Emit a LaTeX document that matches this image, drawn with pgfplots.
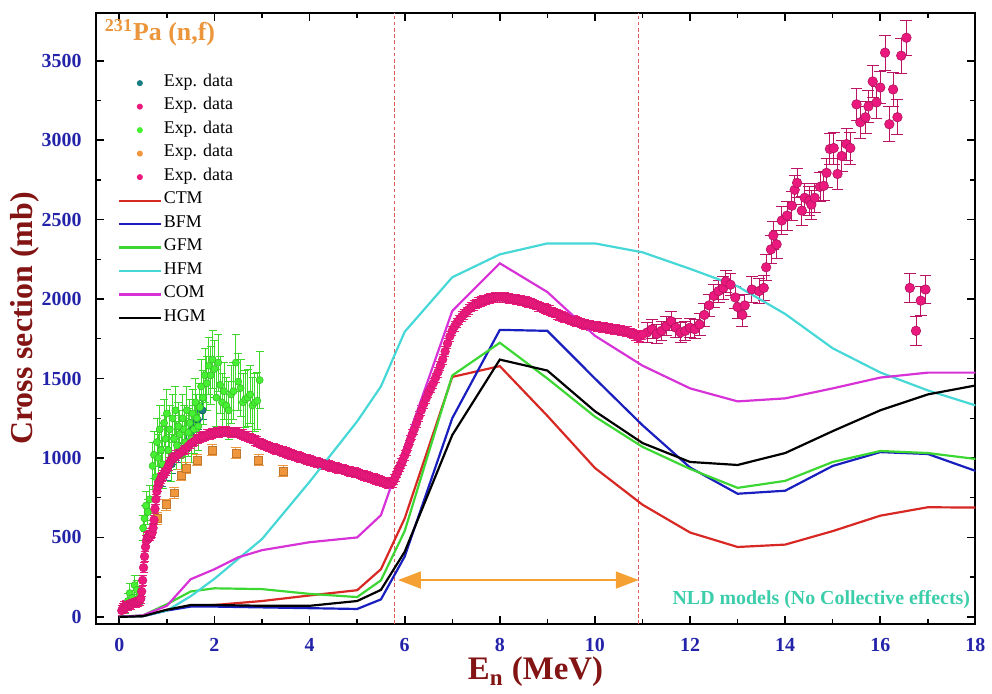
\documentclass[border=0pt]{standalone}
\usepackage{pgfplots}
\pgfplotsset{compat=1.18}
\usepackage{fontspec}
\setmainfont{Liberation Serif}
\usetikzlibrary{arrows.meta}
\definecolor{ctm}{RGB}{215,40,35}
\definecolor{bfm}{RGB}{25,30,190}
\definecolor{gfm}{RGB}{60,215,50}
\definecolor{hfm}{RGB}{70,215,215}
\definecolor{com}{RGB}{215,50,215}
\definecolor{expteal}{RGB}{25,125,130}
\definecolor{expmag}{RGB}{235,25,125}
\definecolor{expgreen}{RGB}{70,240,50}
\definecolor{exporange}{RGB}{240,150,60}
\definecolor{tickblue}{RGB}{35,35,170}
\definecolor{labred}{RGB}{130,20,20}
\definecolor{titleor}{RGB}{235,150,60}
\definecolor{nldteal}{RGB}{60,205,170}
\definecolor{vline}{RGB}{220,90,90}
\definecolor{arrowor}{RGB}{245,160,50}

\pgfplotstableread{
x y
0 0
0.5 5
1 45
1.5 70
2 75
3 100
4 135
5 168
5.5 300
6 620
7 1510
8 1578
9 1265
10 937
11 706
12 531
13 440
14 455
15 540
16 637
17 690
18 688
}\ctm
\pgfplotstableread{
x y
0 0
0.5 5
1 40
1.5 65
2 65
3 60
4 55
5 50
5.5 110
6 380
7 1250
8 1806
9 1800
10 1500
11 1206
12 940
13 775
14 794
15 950
16 1037
17 1025
18 919
}\bfm
\pgfplotstableread{
x y
0 0
0.5 10
1 80
1.5 160
2 180
3 175
4 145
5 125
5.5 230
6 540
7 1519
8 1725
9 1500
10 1260
11 1070
12 931
13 812
14 856
15 975
16 1044
17 1031
18 994
}\gfm
\pgfplotstableread{
x y
0 0
0.5 5
1 40
1.5 130
2 240
3 490
4 850
5 1230
5.5 1450
6 1794
7 2137
8 2281
9 2350
10 2350
11 2294
12 2190
13 2080
14 1906
15 1690
16 1538
17 1425
18 1331
}\hfm
\pgfplotstableread{
x y
0 0
0.5 10
1 70
1.5 237
2 300
2.5 375
3 420
4 470
5 500
5.5 640
7 1925
8 2225
9 2044
10 1769
11 1581
12 1438
13 1356
14 1375
15 1438
16 1506
17 1537
18 1537
}\com
\pgfplotstableread{
x y
0 0
0.5 5
1 45
1.5 75
2 75
3 70
4 70
5 100
5.5 170
6 410
7 1144
8 1619
9 1550
10 1294
11 1094
12 975
13 956
14 1031
15 1169
16 1300
17 1400
18 1456
}\hgm
\pgfplotstableread{
x y e
0.90 880 60
1.00 920 60
1.10 960 60
1.25 1030 60
1.40 1100 60
1.55 1180 60
1.65 1240 60
1.75 1300 60
}\expA
\pgfplotstableread{
x y e
11.10 1790 60
11.20 1810 60
11.30 1780 60
11.40 1800 60
11.50 1830 60
11.60 1860 60
11.70 1820 60
11.80 1790 60
11.90 1800 60
12.00 1820 60
12.10 1810 60
12.20 1840 70
12.30 1900 70
12.40 1960 70
12.50 2020 70
12.60 2050 70
12.70 2070 70
12.75 2110 70
12.85 2090 70
12.95 2010 70
13.00 1950 70
13.10 1900 70
13.15 1960 70
13.30 2060 80
13.45 2050 80
13.55 2070 80
13.60 2200 80
13.70 2312 90
13.75 2400 90
13.82 2344 90
13.93 2494 90
14.04 2525 90
14.14 2587 90
14.20 2687 90
14.25 2731 90
14.35 2556 90
14.41 2637 90
14.51 2619 90
14.55 2594 90
14.62 2637 90
14.73 2706 90
14.81 2712 90
14.87 2794 90
14.94 2944 100
15.02 2950 100
15.10 2787 100
15.19 2900 100
15.29 2975 100
15.37 2950 100
15.50 3225 100
15.58 3112 100
15.69 3144 100
15.75 3212 100
15.84 3369 100
15.92 3237 100
16.00 3331 100
16.10 3550 110
16.19 3100 110
16.27 3319 110
16.36 3144 110
16.44 3531 110
16.55 3644 110
16.62 2070 90
16.75 1800 90
16.85 1990 90
16.95 2060 90
}\expB
\pgfplotstableread{
x y e
0.12 60 40
0.18 100 50
0.22 150 60
0.27 120 50
0.32 200 60
0.37 170 60
0.42 130 50
0.50 560 80
0.53 620 80
0.56 700 90
0.60 660 80
0.64 740 90
0.70 950 150
0.73 1020 150
0.76 880 150
0.79 1100 150
0.82 1000 150
0.85 1180 150
0.88 1050 150
0.91 960 150
0.94 1220 150
0.97 1120 150
1.00 1280 150
1.03 1050 150
1.06 1180 150
1.09 1000 150
1.12 1250 150
1.15 1120 150
1.18 1300 150
1.21 1080 150
1.24 1200 150
1.27 1150 150
1.30 1020 150
1.33 1250 150
1.36 1180 150
1.39 1100 150
1.42 1300 150
1.45 1160 150
1.48 1220 150
1.51 1120 150
1.54 1280 150
1.57 1180 150
1.60 1350 150
1.63 1250 150
1.66 1200 150
1.69 1320 150
1.72 1450 170
1.76 1380 170
1.80 1520 170
1.84 1470 170
1.88 1580 180
1.92 1520 180
1.96 1620 180
2.00 1560 180
2.04 1380 180
2.08 1600 180
2.12 1460 180
2.16 1350 180
2.20 1420 180
2.25 1330 180
2.30 1300 180
2.35 1400 180
2.40 1420 180
2.45 1600 180
2.50 1480 180
2.55 1440 180
2.60 1350 180
2.65 1370 180
2.70 1380 180
2.75 1400 180
2.80 1330 180
2.85 1350 180
2.90 1360 180
2.95 1490 180
}\expC
\pgfplotstableread{
x y e
0.80 620 35
0.98 706 35
1.15 781 35
1.30 894 35
1.40 937 35
1.63 987 35
1.95 1050 35
2.45 1031 35
2.93 987 35
3.45 919 35
}\expD
\pgfplotstableread{
x y
0.05 40
0.08 55
0.10 65
0.13 60
0.15 75
0.18 70
0.20 80
0.23 85
0.25 78
0.28 90
0.30 88
0.33 95
0.35 92
0.38 100
0.40 98
0.43 105
0.45 115
0.47 160
0.49 230
0.51 310
0.53 380
0.55 440
0.57 480
0.59 500
0.61 505
0.63 515
0.65 510
0.67 525
0.69 530
0.71 560
0.73 610
0.75 680
0.77 740
0.79 790
0.81 820
0.83 845
0.85 855
0.87 870
0.89 880
0.92 890
0.95 905
0.98 920
1.01 935
1.04 955
1.07 975
1.10 990
1.13 1000
1.16 1005
1.20 1015
1.25 1025
1.30 1035
1.35 1050
1.40 1060
1.45 1075
1.50 1090
1.55 1100
1.60 1110
1.65 1120
1.70 1130
1.75 1135
1.80 1140
1.85 1148
1.90 1150
1.95 1155
2.00 1158
2.05 1162
2.10 1160
2.15 1166
2.20 1164
2.25 1168
2.30 1165
2.35 1162
2.40 1164
2.45 1158
2.50 1160
2.55 1152
2.60 1148
2.65 1140
2.70 1135
2.75 1126
2.80 1120
2.85 1110
2.90 1105
2.95 1096
3.00 1090
3.05 1082
3.10 1075
3.15 1070
3.20 1064
3.25 1060
3.30 1054
3.35 1050
3.40 1044
3.45 1040
3.50 1034
3.55 1030
3.60 1024
3.65 1020
3.70 1014
3.75 1010
3.80 1004
3.85 1000
3.90 995
3.95 990
4.00 985
4.05 982
4.10 976
4.15 972
4.20 970
4.25 964
4.30 960
4.35 958
4.40 954
4.45 948
4.50 945
4.55 940
4.60 935
4.65 932
4.70 930
4.75 924
4.80 920
4.85 915
4.90 912
4.95 908
5.00 905
5.05 900
5.10 895
5.15 890
5.20 885
5.25 880
5.30 875
5.35 870
5.40 865
5.45 860
5.50 855
5.55 850
5.60 845
5.65 840
5.70 838
5.75 848
5.78 865
5.81 885
5.84 905
5.87 925
5.90 945
5.93 965
5.96 985
6.00 1015
6.04 1045
6.08 1080
6.12 1115
6.16 1150
6.20 1180
6.25 1220
6.30 1260
6.35 1300
6.40 1340
6.45 1375
6.50 1410
6.55 1440
6.60 1470
6.65 1505
6.70 1540
6.75 1580
6.80 1620
6.85 1670
6.90 1720
6.95 1765
7.00 1800
7.05 1828
7.10 1850
7.15 1870
7.20 1890
7.25 1905
7.30 1920
7.35 1935
7.40 1950
7.45 1960
7.50 1970
7.55 1978
7.60 1985
7.65 1990
7.70 1995
7.75 2000
7.80 2005
7.85 2008
7.90 2010
7.95 2012
8.00 2012
8.05 2011
8.10 2010
8.15 2008
8.20 2005
8.25 2002
8.30 2000
8.35 1998
8.40 1995
8.45 1992
8.50 1988
8.55 1984
8.60 1980
8.65 1975
8.70 1970
8.75 1962
8.80 1955
8.85 1950
8.90 1945
8.95 1940
9.00 1935
9.05 1928
9.10 1920
9.15 1912
9.20 1905
9.25 1898
9.30 1890
9.35 1885
9.40 1880
9.45 1875
9.50 1870
9.55 1865
9.60 1860
9.65 1855
9.70 1850
9.75 1845
9.80 1840
9.85 1838
9.90 1835
9.95 1832
10.00 1830
10.05 1828
10.10 1825
10.15 1822
10.20 1820
10.25 1818
10.30 1815
10.35 1812
10.40 1810
10.45 1808
10.50 1805
10.55 1802
10.60 1800
10.65 1798
10.70 1795
10.75 1788
10.80 1780
10.85 1770
10.90 1760
10.95 1765
11.00 1775
}\expE

\begin{document}
\begin{tikzpicture}
\begin{axis}[
  scale only axis, width=442pt, height=307pt,
  xmin=-0.5, xmax=18, ymin=-45, ymax=3800,
  xtick={0,2,...,18}, ytick={0,500,...,3500},
  minor x tick num=1, minor y tick num=1,
  tick align=inside,
  major tick length=4pt, minor tick length=2.5pt,
  every major tick/.style={line width=0.9pt, black},
  every minor tick/.style={line width=0.7pt, black},
  axis line style={line width=1pt},
  ticklabel style={font=\fontsize{10}{12}\selectfont\bfseries, text=tickblue},
  /pgf/number format/assume math mode=true,
  /pgf/number format/1000 sep={},
  xticklabel style={anchor=base, yshift=-14pt},
  yticklabel style={anchor=east, xshift=-3.5pt},
  xlabel={E\textsubscript{n} (MeV)},
  ylabel={Cross section (mb)},
  xlabel style={at={(axis description cs:0.5,-0.0915)}, anchor=base, font=\fontsize{16.5}{19}\selectfont\bfseries, text=labred},
  ylabel style={at={(axis description cs:-0.0803,0.5)}, anchor=center, font=\fontsize{16}{19}\selectfont\bfseries, text=labred},
  legend cell align=left,
  legend image code/.code={\draw[mark repeat=2,mark phase=2,#1] plot coordinates {(0pt,0pt) (10.5pt,0pt) (21pt,0pt)};},
  legend style={at={(axis description cs:0.0249,0.905)}, anchor=north west, draw=none, fill=none, inner sep=0pt,
    font=\fontsize{9}{10}\selectfont, row sep=0pt,
    nodes={inner xsep=1pt, inner ysep=0pt, text height=7.5pt, text depth=4.3pt}},
  error bars/error bar style={line width=0.4pt},
]
% vertical dashed lines
\draw[vline, line width=0.7pt, dash pattern=on 1.8pt off 1.3pt] (axis cs:5.78,-45) -- (axis cs:5.78,3800);
\draw[vline, line width=0.7pt, dash pattern=on 1.8pt off 1.3pt] (axis cs:10.92,-45) -- (axis cs:10.92,3800);

\addplot[only marks, mark=*, mark size=1.8pt, mark options={fill=expteal, draw=expteal!70!black, line width=0.3pt},
  legend image code/.code={\fill[expteal] (10.5pt,0pt) circle (1.3pt);},
  error bars/.cd, y dir=both, y explicit, error bar style={expteal}, error mark options={rotate=90, mark size=2pt, expteal}]
  table[x=x, y=y, y error=e] {\expA};
\addplot[only marks, mark=*, mark size=2.4pt, mark options={fill=expmag, draw=expmag!75!black, line width=0.3pt},
  legend image code/.code={\fill[expmag] (10.5pt,0pt) circle (1.3pt);},
  error bars/.cd, y dir=both, y explicit, error bar style={expmag!80!black}, error mark options={rotate=90, mark size=3pt, expmag!80!black}]
  table[x=x, y=y, y error=e] {\expB};
\addplot[only marks, mark=*, mark size=1.8pt, mark options={fill=expgreen, draw=expgreen!80!black, line width=0.3pt},
  legend image code/.code={\fill[expgreen] (10.5pt,0pt) circle (1.3pt);},
  error bars/.cd, y dir=both, y explicit, error bar style={expgreen!90!black}, error mark options={rotate=90, mark size=2pt, expgreen!90!black}]
  table[x=x, y=y, y error=e] {\expC};
\addplot[only marks, mark=square*, mark size=2pt, mark options={fill=exporange, draw=exporange!80!black, line width=0.3pt},
  legend image code/.code={\fill[exporange] (10.5pt,0pt) circle (1.3pt);},
  error bars/.cd, y dir=both, y explicit, error bar style={exporange}, error mark options={rotate=90, mark size=2.5pt, exporange}]
  table[x=x, y=y, y error=e] {\expD};
\addplot[only marks, mark=*, mark size=2.2pt, mark options={fill=expmag, draw=expmag!85!black, line width=0.2pt},
  legend image code/.code={\fill[expmag] (10.5pt,0pt) circle (1.3pt);},
  error bars/.cd, y dir=both, y fixed=30, error bar style={expmag}, error mark options={rotate=90, mark size=2pt, expmag}]
  table[x=x, y=y] {\expE};

\addplot[ctm, line width=1.1pt, no marks] table[x=x,y=y] {\ctm};
\addplot[bfm, line width=1.1pt, no marks] table[x=x,y=y] {\bfm};
\addplot[gfm, line width=1.1pt, no marks] table[x=x,y=y] {\gfm};
\addplot[hfm, line width=1.1pt, no marks] table[x=x,y=y] {\hfm};
\addplot[com, line width=1.1pt, no marks] table[x=x,y=y] {\com};
\addplot[black, line width=1.1pt, no marks] table[x=x,y=y] {\hgm};

\legend{Exp. data, Exp. data, Exp. data, Exp. data, Exp. data, CTM, BFM, GFM, HFM, COM, HGM}

\draw[arrowor, line width=1pt, {Triangle[length=11.5pt,width=8.5pt]}-{Triangle[length=11.5pt,width=8.5pt]}] (axis cs:5.86,232) -- (axis cs:10.92,232);

\node[anchor=west, font=\fontsize{13}{15}\selectfont\bfseries, text=titleor, inner sep=0pt] at (axis description cs:0.0102,0.968) {\textsuperscript{231}Pa (n,f)};
\node[anchor=base east, font=\fontsize{10}{12}\selectfont\bfseries, text=nldteal, inner sep=0pt] at (axis description cs:0.9943,0.0326) {NLD models (No Collective effects)};
\end{axis}
\useasboundingbox (-48pt,-32.5pt) rectangle (448pt,313.5pt);
\end{tikzpicture}
\end{document}
